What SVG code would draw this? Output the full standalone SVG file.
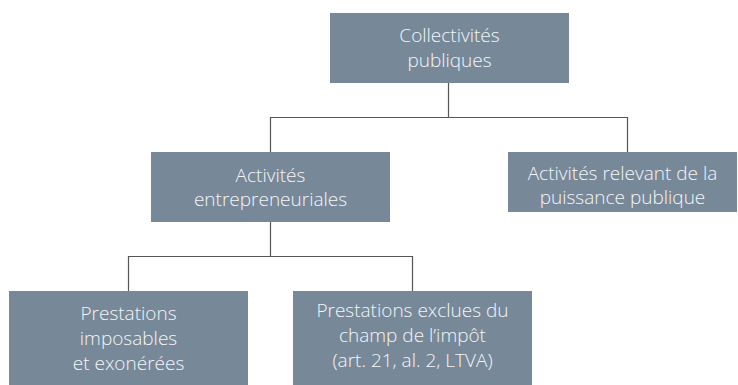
<svg xmlns="http://www.w3.org/2000/svg" width="738" height="385" viewBox="0 0 738 385">
<style>
.box{fill:#778899}
.t{font-family:"Open Sans","Noto Sans","Liberation Sans",sans-serif;font-size:19px;font-weight:300;fill:#f4f6f8;text-anchor:middle}
.c{fill:none;stroke:#555;stroke-width:1.2}
</style>
<rect width="738" height="385" fill="#fff"/>
<g id="connectors">
<path class="c" d="M448.5,83 V117.5 M270.5,152 V117.5 H627.5 V152"/>
<path class="c" d="M270.5,222 V256.5 M128.5,291 V256.5 H412.5 V291"/>
</g>
<g id="n1"><rect class="box" x="330" y="13" width="239" height="70"/>
<text class="t" x="449.5" y="42">Collectivités</text><text class="t" x="449.5" y="67">publiques</text></g>
<g id="n2"><rect class="box" x="151" y="152" width="239" height="70"/>
<text class="t" x="270.5" y="182">Activités</text><text class="t" x="270.5" y="206">entrepreneuriales</text></g>
<g id="n3"><rect class="box" x="508" y="152" width="229" height="60"/>
<text class="t" x="622.5" y="180">Activités relevant de la</text><text class="t" x="622.5" y="204">puissance publique</text></g>
<g id="n4"><rect class="box" x="9" y="291" width="239" height="94"/>
<text class="t" x="128.5" y="320">Prestations</text><text class="t" x="128.5" y="345">imposables</text><text class="t" x="128.5" y="370">et exonérées</text></g>
<g id="n5"><rect class="box" x="293" y="291" width="239" height="94"/>
<text class="t" x="412.5" y="317">Prestations exclues du</text><text class="t" x="412.5" y="342">champ de l’impôt</text><text class="t" x="412.5" y="367">(art. 21, al. 2, LTVA)</text></g>
</svg>
